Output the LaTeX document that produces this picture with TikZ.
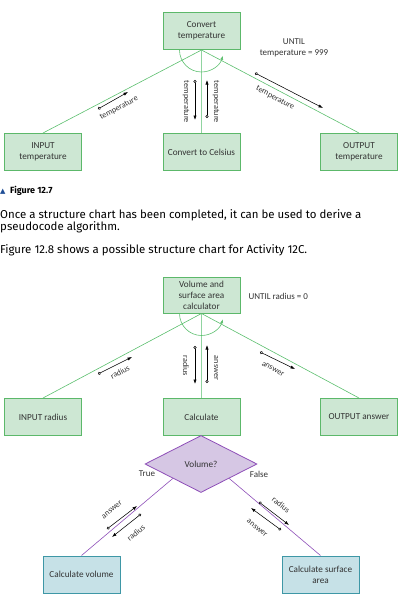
\documentclass[tikz,border=0pt]{standalone}
\usepackage{fontspec}
\setmainfont{Carlito}
\newfontfamily\bodyfont{Fira Sans}
\newfontfamily\symfont{DejaVu Sans}
\usepackage{xcolor}
\usetikzlibrary{shapes,arrows.meta,positioning}

\definecolor{boxgreen}{HTML}{5CB86A}
\definecolor{fillgreen}{HTML}{CDE7D3}
\definecolor{linegreen}{HTML}{5CBF6E}
\definecolor{stemgreen}{HTML}{90D4A0}
\definecolor{boxblue}{HTML}{3E97A6}
\definecolor{fillblue}{HTML}{C6E1E7}
\definecolor{boxpurple}{HTML}{8E4FB8}
\definecolor{fillpurple}{HTML}{D6C7E4}
\definecolor{capblue}{HTML}{1F4E96}
\definecolor{inkgray}{HTML}{333333}

\tikzset{
  modbox/.style={draw=boxgreen, line width=1pt, fill=fillgreen, minimum width=77pt, minimum height=37pt, inner sep=2pt, align=center, text=inkgray, font=\fontsize{9.2}{11}\selectfont},
  leafbox/.style={modbox, draw=boxblue, fill=fillblue},
  choice/.style={diamond, draw=boxpurple, line width=0.8pt, fill=fillpurple, minimum width=112pt, minimum height=57pt, inner sep=0pt, text=inkgray, font=\fontsize{9.2}{11}\selectfont},
  link/.style={draw=linegreen, line width=0.6pt},
  stem/.style={draw=stemgreen, line width=1.6pt},
  purplelink/.style={draw=boxpurple, line width=0.6pt},
  loopmark/.style={draw=linegreen, line width=0.6pt, -{Latex[length=4pt,width=3pt]}},
  dataflow/.style={line width=0.55pt, {Circle[open,length=3pt,width=3pt]}-{Latex[length=4.5pt,width=3.2pt]}},
  flowlabel/.style={text=inkgray, inner sep=0pt, font=\fontsize{8.2}{10}\selectfont},
  note/.style={text=inkgray, align=center, font=\fontsize{9}{11}\selectfont},
  bodytext/.style={anchor=base west, inner sep=0pt, text=black, font=\bodyfont\fontsize{11.45}{13}\selectfont}
}

\begin{document}
\begin{tikzpicture}[x=1pt, y=1pt]
    \useasboundingbox (0,0) rectangle (405,-610);

    % Figure 12.7
    \node[modbox] (convert) at (201.5,-31) {Convert\\temperature};
    \node[modbox] (input) at (43,-152) {INPUT\\temperature};
    \node[modbox] (celsius) at (201.5,-152) {Convert to Celsius};
    \node[modbox] (output) at (359,-152) {OUTPUT\\temperature};

    \draw[link] (convert.south) -- (input.north);
    \draw[stem] (convert.south) -- (celsius.north);
    \draw[link] (convert.south) -- (output.north);
    \draw[loopmark] ([xshift=-22pt]convert.south) arc[start angle=180, end angle=345, radius=22];
    \node[note] (until1) at (294,-48) {UNTIL\\temperature = 999};

    \coordinate (a1) at (98,-109);  \coordinate (a2) at (128,-92);
    \coordinate (b1) at (195,-80);  \coordinate (b2) at (195,-120);
    \coordinate (c1) at (207,-118); \coordinate (c2) at (207,-80);
    \coordinate (d1) at (255,-73);  \coordinate (d2) at (323,-108);
    \draw[dataflow] (a1) -- (a2);
    \draw[dataflow] (b1) -- (b2);
    \draw[dataflow] (c1) -- (c2);
    \draw[dataflow] (d1) -- (d2);
    \node[flowlabel, rotate=28] (la) at (119,-108) {temperature};
    \node[flowlabel, rotate=-90] (lb) at (186,-102) {temperature};
    \node[flowlabel, rotate=-90] (lc) at (216,-102) {temperature};
    \node[flowlabel, rotate=-28] (ld) at (275,-98) {temperature};

    % caption and text
    \node[anchor=base west, inner sep=0pt, text=capblue, font=\symfont\fontsize{7}{8}\selectfont] (tri) at (0,-193) {▲};
    \node[anchor=base west, inner sep=0pt, font=\bodyfont\bfseries\fontsize{9}{10}\selectfont] (cap) at (10,-193) {Figure 12.7};
    \node[bodytext] (para1) at (0,-218) {Once a structure chart has been completed, it can be used to derive a};
    \node[bodytext] (para2) at (0,-230) {pseudocode algorithm.};
    \node[bodytext] (para3) at (0,-253) {Figure 12.8 shows a possible structure chart for Activity 12C.};

    % Figure 12.8
    \node[modbox, minimum height=36pt] (calc) at (201.5,-295) {Volume and\\surface area\\calculator};
    \node[modbox] (inrad) at (43,-417) {INPUT radius};
    \node[modbox] (calcmod) at (201.5,-417) {Calculate};
    \node[modbox] (outans) at (359,-417) {OUTPUT answer};

    \draw[link] (calc.south) -- (inrad.north);
    \draw[stem] (calc.south) -- (calcmod.north);
    \draw[link] (calc.south) -- (outans.north);
    \draw[loopmark] ([xshift=-22pt]calc.south) arc[start angle=180, end angle=345, radius=22];
    \node[note, anchor=west] (until2) at (245,-296) {UNTIL radius = 0};

    \coordinate (e1) at (98,-374);  \coordinate (e2) at (132,-357);
    \coordinate (f1) at (195,-346); \coordinate (f2) at (195,-384);
    \coordinate (g1) at (207,-383); \coordinate (g2) at (207,-345);
    \coordinate (h1) at (260,-352); \coordinate (h2) at (295,-369);
    \draw[dataflow] (e1) -- (e2);
    \draw[dataflow] (f1) -- (f2);
    \draw[dataflow] (g1) -- (g2);
    \draw[dataflow] (h1) -- (h2);
    \node[flowlabel, rotate=28] (le) at (120,-372) {radius};
    \node[flowlabel, rotate=-90] (lf) at (186,-366) {radius};
    \node[flowlabel, rotate=-90] (lg) at (216,-368) {answer};
    \node[flowlabel, rotate=-28] (lh) at (273,-369) {answer};

    % selection
    \node[choice] (volq) at (201,-464) {Volume?};
    \node[leafbox] (cvol) at (81.5,-574.5) {Calculate volume};
    \node[leafbox] (carea) at (320.5,-574.5) {Calculate surface\\area};
    \draw[purplelink] (volq.south west) -- (cvol.north);
    \draw[purplelink] (volq.south east) -- (carea.north);
    \node[note] (ltrue) at (147,-474) {True};
    \node[note] (lfalse) at (259,-474) {False};

    \coordinate (i1) at (107,-529); \coordinate (i2) at (137,-506);
    \coordinate (j1) at (141,-514); \coordinate (j2) at (112,-537);
    \coordinate (k1) at (259,-502); \coordinate (k2) at (289,-525);
    \coordinate (l1) at (281,-530); \coordinate (l2) at (251,-508);
    \draw[dataflow] (i1) -- (i2);
    \draw[dataflow] (j1) -- (j2);
    \draw[dataflow] (k1) -- (k2);
    \draw[dataflow] (l1) -- (l2);
    \node[flowlabel, rotate=39] (li) at (112,-510) {answer};
    \node[flowlabel, rotate=39] (lj) at (136,-533) {radius};
    \node[flowlabel, rotate=-39] (lk) at (281,-505) {radius};
    \node[flowlabel, rotate=-39] (ll) at (257,-528) {answer};
\end{tikzpicture}
\end{document}
